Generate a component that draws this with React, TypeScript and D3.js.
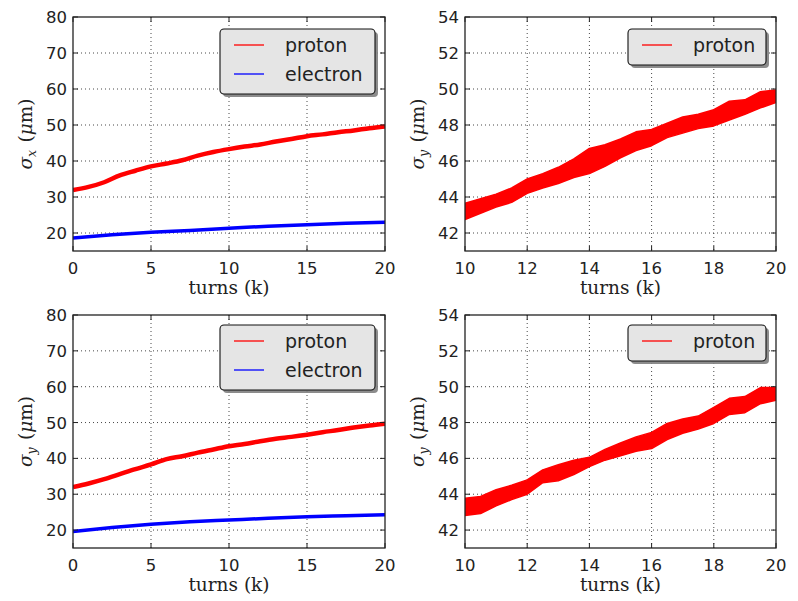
import React from 'react';
import * as d3 from 'd3';

// ---------- Data ----------
const xTicksLeft = [0, 5, 10, 15, 20];
const yTicksLeft = [20, 30, 40, 50, 60, 70, 80];
const xTicksRight = [10, 12, 14, 16, 18, 20];
const yTicksRight = [42, 44, 46, 48, 50, 52, 54];

// Top-left: sigma_x
const tlProtonTurns = [0, 1, 2, 3, 4, 5, 6, 7, 8, 9, 10, 11, 12, 13, 14, 15, 16, 17, 18, 19, 20];
const tlProtonSigma = [31.9, 32.8, 34.1, 36.0, 37.3, 38.5, 39.3, 40.2, 41.5, 42.5, 43.3, 44.0, 44.6, 45.4, 46.1, 46.9, 47.4, 48.0, 48.5, 49.1, 49.6];
const tlElectronTurns = [0, 2.5, 5, 7.5, 10, 12.5, 15, 17.5, 20];
const tlElectronSigma = [18.6, 19.5, 20.2, 20.7, 21.3, 21.9, 22.3, 22.7, 23.0];

// Bottom-left: sigma_y
const blProtonTurns = [0, 1, 2, 3, 4, 5, 6, 7, 8, 9, 10, 11, 12, 13, 14, 15, 16, 17, 18, 19, 20];
const blProtonSigma = [32.0, 33.0, 34.2, 35.6, 37.0, 38.3, 39.8, 40.6, 41.6, 42.5, 43.4, 44.0, 44.8, 45.5, 46.0, 46.6, 47.3, 47.9, 48.6, 49.2, 49.7];
const blElectronTurns = [0, 2.5, 5, 7.5, 10, 12.5, 15, 17.5, 20];
const blElectronSigma = [19.6, 20.7, 21.6, 22.3, 22.8, 23.3, 23.7, 24.0, 24.3];

// Right panels: zoom 10k-20k, center and half-spread of the noisy band
const rightTurns = [10, 10.5, 11, 11.5, 12, 12.5, 13, 13.5, 14, 14.5, 15, 15.5, 16, 16.5, 17, 17.5, 18, 18.5, 19, 19.5, 20];
const trSigma = [43.2, 43.5, 43.8, 44.1, 44.6, 44.9, 45.2, 45.6, 46.0, 46.3, 46.7, 47.1, 47.3, 47.7, 48.0, 48.2, 48.4, 48.8, 49.0, 49.4, 49.6];
const trSpread = [0.45, 0.4, 0.36, 0.4, 0.4, 0.4, 0.45, 0.52, 0.7, 0.6, 0.52, 0.52, 0.45, 0.4, 0.45, 0.4, 0.45, 0.52, 0.4, 0.45, 0.35];
const brSigma = [43.3, 43.4, 43.8, 44.1, 44.4, 45.0, 45.2, 45.5, 45.8, 46.2, 46.5, 46.8, 47.0, 47.5, 47.8, 48.0, 48.4, 48.9, 49.0, 49.5, 49.6];
const brSpread = [0.48, 0.48, 0.45, 0.4, 0.4, 0.36, 0.45, 0.4, 0.26, 0.3, 0.36, 0.4, 0.45, 0.45, 0.4, 0.36, 0.45, 0.45, 0.45, 0.45, 0.35];

const legendNames = ['proton', 'electron'];
const colors = { proton: '#ff0000', electron: '#0000ff' };

type LineSeries = { kind: 'line'; x: number[]; y: number[]; color: string; width: number };
type BandSeries = { kind: 'band'; x: number[]; y: number[]; spread: number[]; color: string };

type PanelProps = {
  id: string;
  left: number; right: number; top: number; bottom: number;
  xDomain: [number, number]; yDomain: [number, number];
  xTicks: number[]; yTicks: number[];
  sub: string;
  series: (LineSeries | BandSeries)[];
  legend: { name: string; color: string }[];
  legendBox: { x: number; y: number; w: number };
};

const TICK_FONT = '"DejaVu Sans", sans-serif';
const LABEL_FONT = '"DejaVu Serif", serif';
const TICK_SIZE = 16.5;

function Panel(p: PanelProps) {
  const x = d3.scaleLinear().domain(p.xDomain).range([p.left, p.right]);
  const y = d3.scaleLinear().domain(p.yDomain).range([p.bottom, p.top]);
  const cx = (p.left + p.right) / 2;
  const cy = (p.top + p.bottom) / 2;
  const rowH = 29;
  const lb = p.legendBox;
  const lh = p.legend.length * rowH + 7;
  return (
    <g>
      <defs>
        <clipPath id={`clip-${p.id}`}>
          <rect x={p.left} y={p.top} width={p.right - p.left} height={p.bottom - p.top} />
        </clipPath>
      </defs>
      <rect x={p.left} y={p.top} width={p.right - p.left} height={p.bottom - p.top} fill="#fff" />
      {/* grid */}
      {p.xTicks.filter(t => t > p.xDomain[0] && t < p.xDomain[1]).map(t => (
        <line key={'gx' + t} x1={x(t)} x2={x(t)} y1={p.top} y2={p.bottom} stroke="#333" strokeWidth={0.9} strokeDasharray="1,3" />
      ))}
      {p.yTicks.filter(t => t > p.yDomain[0] && t < p.yDomain[1]).map(t => (
        <line key={'gy' + t} x1={p.left} x2={p.right} y1={y(t)} y2={y(t)} stroke="#333" strokeWidth={0.9} strokeDasharray="1,3" />
      ))}
      {/* data */}
      <g clipPath={`url(#clip-${p.id})`}>
        {p.series.map((s, si) => {
          if (s.kind === 'line') {
            const gen = d3.line<number>().x((_, i) => x(s.x[i])).y(d => y(d)).curve(d3.curveMonotoneX);
            return <path key={si} d={gen(s.y) || ''} fill="none" stroke={s.color} strokeWidth={s.width} strokeLinejoin="round" />;
          }
          const gen = d3.area<number>()
            .x((_, i) => x(s.x[i]))
            .y0((d, i) => y(d - s.spread[i]))
            .y1((d, i) => y(d + s.spread[i]))
            .curve(d3.curveLinear);
          return <path key={si} d={gen(s.y) || ''} fill={s.color} stroke={s.color} strokeWidth={1.5} strokeLinejoin="round" />;
        })}
      </g>
      {/* ticks (inward, all sides) */}
      {p.xTicks.map(t => (
        <g key={'tx' + t}>
          <line x1={x(t)} x2={x(t)} y1={p.bottom} y2={p.bottom - 5} stroke="#222" strokeWidth={1} />
          <line x1={x(t)} x2={x(t)} y1={p.top} y2={p.top + 5} stroke="#222" strokeWidth={1} />
          <text x={x(t)} y={p.bottom + 23} textAnchor="middle" fontFamily={TICK_FONT} fontSize={TICK_SIZE} fill="#222">{t}</text>
        </g>
      ))}
      {p.yTicks.map(t => (
        <g key={'ty' + t}>
          <line x1={p.left} x2={p.left + 5} y1={y(t)} y2={y(t)} stroke="#222" strokeWidth={1} />
          <line x1={p.right} x2={p.right - 5} y1={y(t)} y2={y(t)} stroke="#222" strokeWidth={1} />
          <text x={p.left - 6} y={y(t) + 6} textAnchor="end" fontFamily={TICK_FONT} fontSize={TICK_SIZE} fill="#222">{t}</text>
        </g>
      ))}
      {/* frame */}
      <rect x={p.left} y={p.top} width={p.right - p.left} height={p.bottom - p.top} fill="none" stroke="#222" strokeWidth={1.3} />
      {/* axis labels */}
      <text x={cx} y={p.bottom + 43} textAnchor="middle" fontFamily={LABEL_FONT} fontSize={18.5} fill="#222">turns (k)</text>
      <text transform={`translate(${p.left - 41},${cy}) rotate(-90)`} textAnchor="middle" fontFamily={LABEL_FONT} fontSize={18.5} fill="#222">
        <tspan fontStyle="italic">σ</tspan>
        <tspan fontStyle="italic" fontSize={12.5} dy={4}>{p.sub}</tspan>
        <tspan dy={-4}>{'\u2009\u2009('}</tspan>
        <tspan fontStyle="italic">μ</tspan>
        <tspan>m)</tspan>
      </text>
      {/* legend */}
      <rect x={lb.x + 3} y={lb.y + 3} width={lb.w} height={lh} rx={4} fill="#808080" opacity={0.9} />
      <rect x={lb.x} y={lb.y} width={lb.w} height={lh} rx={4} fill="#e5e5e5" stroke="#111" strokeWidth={1.1} />
      {p.legend.map((e, i) => (
        <g key={e.name}>
          <line x1={lb.x + 14} x2={lb.x + 44} y1={lb.y + 16 + i * rowH} y2={lb.y + 16 + i * rowH} stroke={e.color} strokeWidth={1.3} />
          <text x={lb.x + 65} y={lb.y + 16 + i * rowH + 6.5} fontFamily={TICK_FONT} fontSize={19} fill="#222">{e.name}</text>
        </g>
      ))}
    </g>
  );
}

export default function App() {
  const legendBoth = [
    { name: legendNames[0], color: colors.proton },
    { name: legendNames[1], color: colors.electron },
  ];
  const legendProton = [{ name: legendNames[0], color: colors.proton }];
  return (
    <svg width={798} height={601} style={{ position: 'absolute', left: 0, top: 0, background: '#fff' }}>
      <rect width={798} height={601} fill="#fff" />
      <Panel id="tl" left={73} right={385} top={17} bottom={251} xDomain={[0, 20]} yDomain={[15, 80]}
        xTicks={xTicksLeft} yTicks={yTicksLeft} sub="x"
        series={[
          { kind: 'line', x: tlProtonTurns, y: tlProtonSigma, color: colors.proton, width: 4.5 },
          { kind: 'line', x: tlElectronTurns, y: tlElectronSigma, color: colors.electron, width: 3.5 },
        ]}
        legend={legendBoth} legendBox={{ x: 220, y: 29, w: 155 }} />
      <Panel id="tr" left={465} right={776} top={17} bottom={251} xDomain={[10, 20]} yDomain={[41, 54]}
        xTicks={xTicksRight} yTicks={yTicksRight} sub="y"
        series={[{ kind: 'band', x: rightTurns, y: trSigma, spread: trSpread, color: colors.proton }]}
        legend={legendProton} legendBox={{ x: 628, y: 29, w: 138 }} />
      <Panel id="bl" left={73} right={385} top={315} bottom={548} xDomain={[0, 20]} yDomain={[15, 80]}
        xTicks={xTicksLeft} yTicks={yTicksLeft} sub="y"
        series={[
          { kind: 'line', x: blProtonTurns, y: blProtonSigma, color: colors.proton, width: 4.5 },
          { kind: 'line', x: blElectronTurns, y: blElectronSigma, color: colors.electron, width: 3.5 },
        ]}
        legend={legendBoth} legendBox={{ x: 220, y: 325, w: 155 }} />
      <Panel id="br" left={465} right={776} top={315} bottom={548} xDomain={[10, 20]} yDomain={[41, 54]}
        xTicks={xTicksRight} yTicks={yTicksRight} sub="y"
        series={[{ kind: 'band', x: rightTurns, y: brSigma, spread: brSpread, color: colors.proton }]}
        legend={legendProton} legendBox={{ x: 628, y: 325, w: 138 }} />
    </svg>
  );
}
